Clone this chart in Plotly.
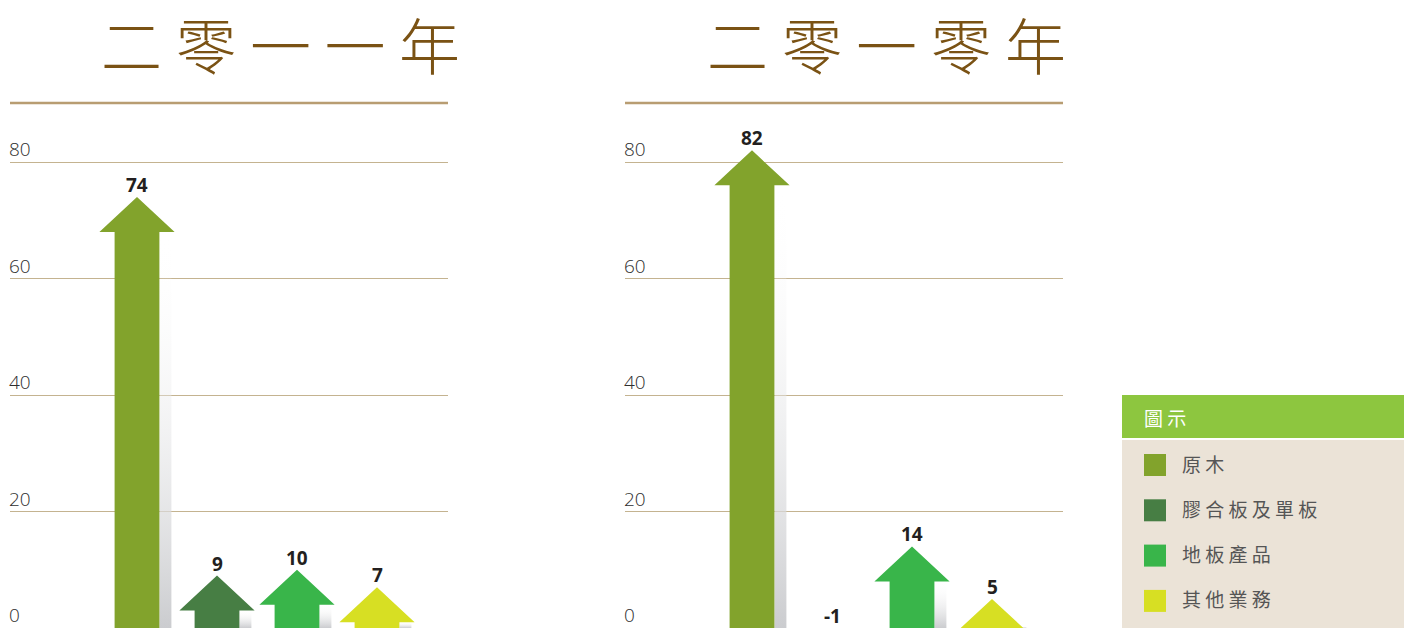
import plotly.graph_objects as go

# ---------------- data ----------------
CATEGORIES = ["原木", "膠合板及單板", "地板產品", "其他業務"]
COLORS = ["#82a32c", "#477e44", "#39b54a", "#d7df23"]
VALUES_2011 = [74, 9, 10, 7]
VALUES_2010 = [82, -1, 14, 5]
PANEL_TITLES = ["二零一一年", "二零一零年"]
Y_TICKS = [0, 20, 40, 60, 80]
LEGEND_TITLE = "圖示"

# ---------------- style ----------------
W, H = 1404, 628
SHAFT = 0.28      # half width of shaft (category units)
HEAD = 0.47       # half width of head
HEAD_LEN = 6.0    # head length (value units)
SHADOW_W = 0.15
X_RANGE = [-1.5875, 3.8875]
Y_RANGE = [0, 90.13]
PLOT_TOP_PX = 103
DOMAINS = [[10 / W, 448 / W], [625 / W, 1063 / W]]
TITLE_X_PX = [280, 886]

def px(x):
    return x / W

def py(y):
    return 1 - y / H

fig = go.Figure()
annotations = []
shapes = []

panels = [VALUES_2011, VALUES_2010]
for p, values in enumerate(panels):
    xa = "x" if p == 0 else "x2"
    ya = "y" if p == 0 else "y2"
    for j, (v, c) in enumerate(zip(values, COLORS)):
        base = v - HEAD_LEN if v >= 0 else min(v + HEAD_LEN, 0)
        # shadow
        if v > 0:
            top = max(base, 0.3)
            fig.add_trace(go.Scatter(
                x=[j + SHAFT, j + SHAFT + SHADOW_W, j + SHAFT + SHADOW_W, j + SHAFT, j + SHAFT],
                y=[0, 0, top, top, 0],
                xaxis=xa, yaxis=ya, mode="lines", line=dict(width=0),
                fill="toself",
                fillgradient=dict(type="vertical",
                                  colorscale=[[0, "rgba(203,204,207,1)"], [1, "rgba(255,255,255,0)"]]),
                hoverinfo="skip", showlegend=False))
        # arrow
        xs = [j - SHAFT, j - SHAFT, j - HEAD, j, j + HEAD, j + SHAFT, j + SHAFT, j - SHAFT]
        ys = [0, base, base, v, base, base, 0, 0]
        fig.add_trace(go.Scatter(
            x=xs, y=ys, xaxis=xa, yaxis=ya, mode="lines",
            line=dict(width=0, color=c), fill="toself", fillcolor=c,
            name=CATEGORIES[j], hoverinfo="skip", showlegend=False))
        annotations.append(dict(
            x=j, y=max(v, 0), xref=xa, yref=ya, text=str(v), showarrow=False,
            yshift=12, yanchor="middle",
            font=dict(family="Open Sans, Noto Sans, sans-serif", size=19, color="#231f20", weight="bold")))
    # tick labels
    for t in Y_TICKS:
        annotations.append(dict(
            x=0, y=t, xref=xa + " domain", yref=ya, text=str(t), showarrow=False,
            xanchor="left", yanchor="middle", xshift=-2, yshift=13, borderpad=0,
            font=dict(family="Open Sans, Noto Sans, sans-serif", size=19, color="#2e2e2e", weight=300)))
    # title
    annotations.append(dict(
        x=px(TITLE_X_PX[p]), y=py(44), xref="paper", yref="paper",
        text=" ".join(PANEL_TITLES[p]), showarrow=False, xanchor="center", yanchor="middle",
        font=dict(family="Noto Sans CJK TC, Noto Sans CJK SC, sans-serif", size=61,
                  color="#7a5214", weight=300)))
    # underline
    shapes.append(dict(type="line", xref="paper", yref="paper",
                       x0=DOMAINS[p][0], x1=DOMAINS[p][1], y0=py(103), y1=py(103),
                       line=dict(color="#b89d72", width=2.5)))

# ---------------- legend box ----------------
LX0, HDR_TOP, HDR_BOT, BODY_TOP = 1122, 395, 438, 440
shapes.append(dict(type="rect", xref="paper", yref="paper", x0=px(LX0), x1=1,
                   y0=py(HDR_BOT), y1=py(HDR_TOP), fillcolor="#8dc63f", line=dict(width=0), layer="below"))
shapes.append(dict(type="rect", xref="paper", yref="paper", x0=px(LX0), x1=1,
                   y0=0, y1=py(BODY_TOP), fillcolor="#ebe3d7", line=dict(width=0), layer="below"))
annotations.append(dict(
    x=px(1142), y=py(417), xref="paper", yref="paper", text=" ".join(LEGEND_TITLE),
    showarrow=False, xanchor="left", yanchor="middle",
    font=dict(family="Noto Sans CJK TC, sans-serif", size=19, color="#ffffff")))
ITEM_Y0, ITEM_DY = 465, 45.3
for k, (name, c) in enumerate(zip(CATEGORIES, COLORS)):
    cy = ITEM_Y0 + k * ITEM_DY
    shapes.append(dict(type="rect", xref="paper", yref="paper",
                       x0=px(1144), x1=px(1166), y0=py(cy + 11), y1=py(cy - 11),
                       fillcolor=c, line=dict(width=0)))
    annotations.append(dict(
        x=px(1180), y=py(cy - 2), xref="paper", yref="paper", text=" ".join(name),
        showarrow=False, xanchor="left", yanchor="middle",
        font=dict(family="Noto Sans CJK TC, sans-serif", size=19, color="#555555")))

axis_common = dict(showline=False, zeroline=False, showticklabels=False, ticks="")
fig.update_layout(
    width=W, height=H, margin=dict(l=0, r=0, t=0, b=0),
    paper_bgcolor="white", plot_bgcolor="rgba(0,0,0,0)", showlegend=False,
    xaxis=dict(domain=DOMAINS[0], range=X_RANGE, showgrid=False, fixedrange=True, **axis_common),
    xaxis2=dict(domain=DOMAINS[1], range=X_RANGE, showgrid=False, fixedrange=True, **axis_common),
    yaxis=dict(domain=[0, py(PLOT_TOP_PX)], range=Y_RANGE, tickvals=Y_TICKS[1:], showgrid=True,
               gridcolor="#c4b390", gridwidth=1, fixedrange=True, **axis_common),
    yaxis2=dict(domain=[0, py(PLOT_TOP_PX)], range=Y_RANGE, tickvals=Y_TICKS[1:], showgrid=True,
                gridcolor="#c4b390", gridwidth=1, fixedrange=True, anchor="x2", **axis_common),
    annotations=annotations, shapes=shapes,
)
fig.update_layout(xaxis2_anchor="y2")
fig.write_html("out.html", config={"displayModeBar": False})
